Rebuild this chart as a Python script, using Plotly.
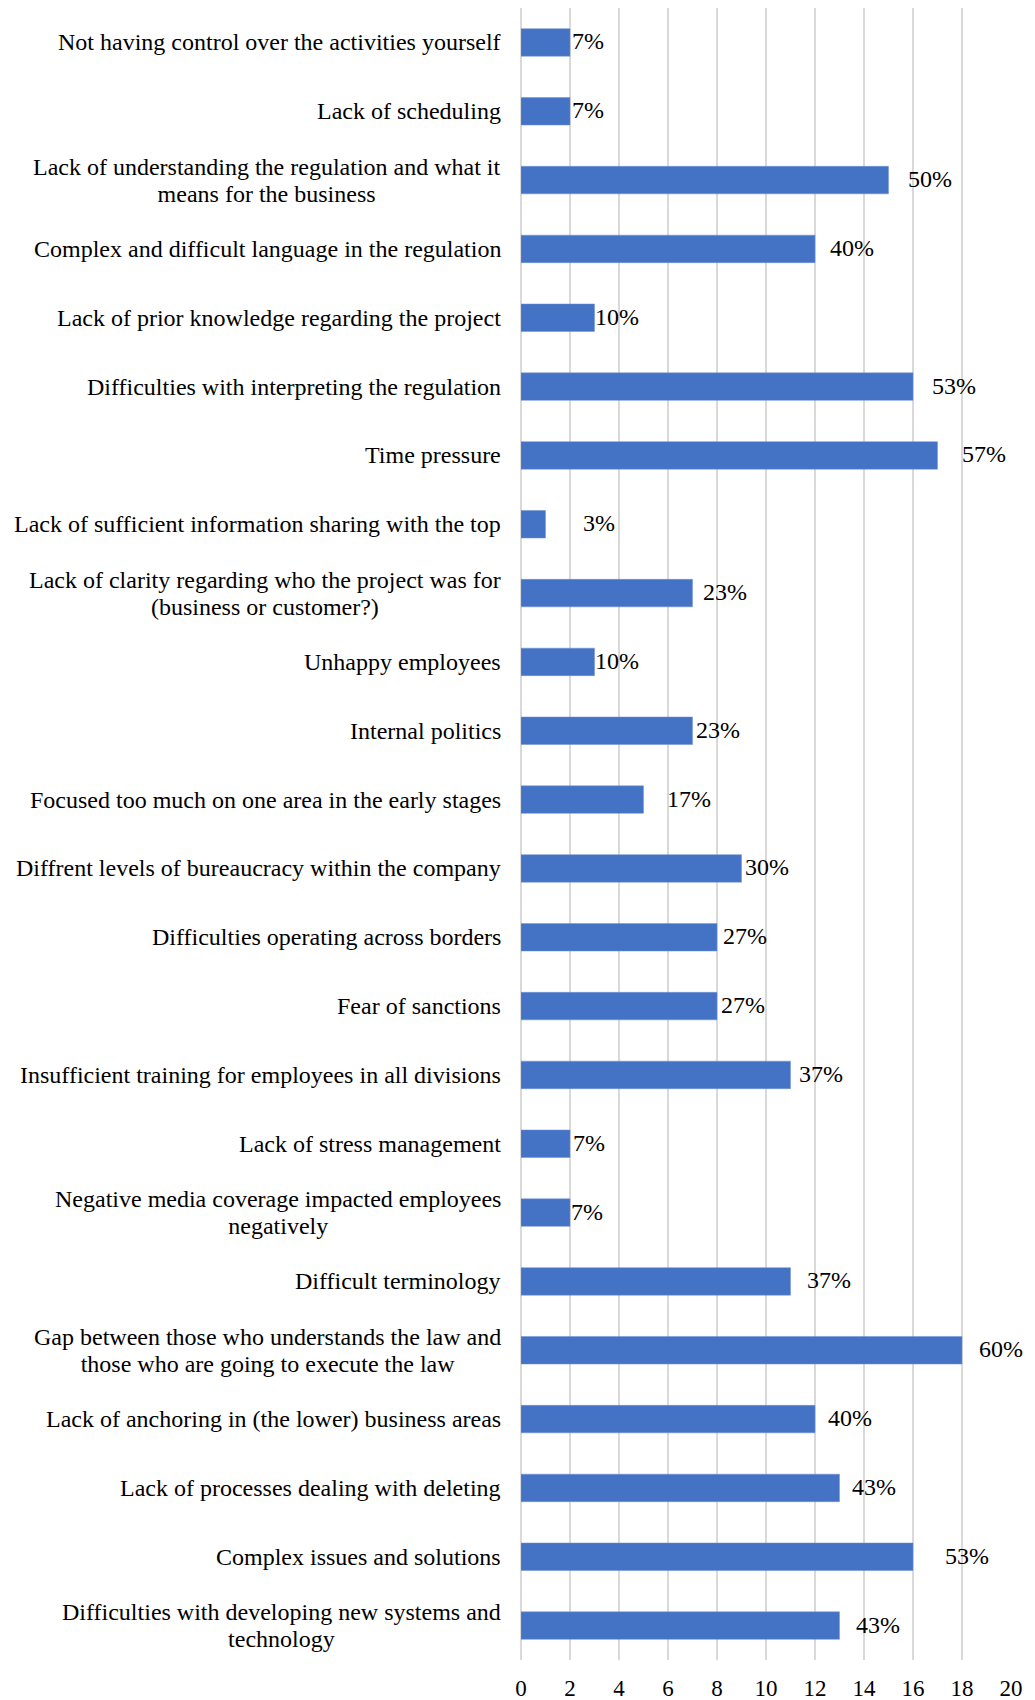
import plotly.graph_objects as go

categories = [
    "Not having control over the activities yourself",
    "Lack of scheduling",
    "Lack of understanding the regulation and what it<br>means for the business",
    "Complex and difficult language in the regulation",
    "Lack of prior knowledge regarding the project",
    "Difficulties with interpreting the regulation",
    "Time pressure",
    "Lack of sufficient information sharing with the top",
    "Lack of clarity regarding who the project was for<br>(business or customer?)",
    "Unhappy employees",
    "Internal politics",
    "Focused too much on one area in the early stages",
    "Diffrent levels of bureaucracy within the company",
    "Difficulties operating across borders",
    "Fear of sanctions",
    "Insufficient training for employees in all divisions",
    "Lack of stress management",
    "Negative media coverage impacted employees<br>negatively",
    "Difficult terminology",
    "Gap between those who understands the law and<br>those who are going to execute the law",
    "Lack of anchoring in (the lower) business areas",
    "Lack of processes dealing with deleting",
    "Complex issues and solutions",
    "Difficulties with developing new systems and<br>technology",
]
counts = [2, 2, 15, 12, 3, 16, 17, 1, 7, 3, 7, 5, 9, 8, 8, 11, 2, 2, 11, 18, 12, 13, 16, 13]
pct_labels = ["7%", "7%", "50%", "40%", "10%", "53%", "57%", "3%", "23%", "10%", "23%", "17%",
              "30%", "27%", "27%", "37%", "7%", "7%", "37%", "60%", "40%", "43%", "53%", "43%"]
x_ticks = [0, 2, 4, 6, 8, 10, 12, 14, 16, 18, 20]

# pixel gap between bar end and its data label (as placed in the original)
label_gap_px = [2, 2, 19, 15, 0, 19, 24, 37, 10, 0, 3, 23, 3, 6, 4, 8, 3, 1, 16, 17, 13, 12, 32, 16]

FONT = "Liberation Serif, Times New Roman, serif"


def tight_lines(label, size=24):
    # each line drawn at full size; the annotation's base size sets the tighter line pitch
    return "<br>".join(f'<span style="font-size:{size}px">{ln}</span>' for ln in label.split("<br>"))


fig = go.Figure()
fig.add_trace(go.Bar(
    x=counts, y=categories, orientation="h",
    marker=dict(color="#4472C4", line=dict(color="#6F93D4", width=0.5)),
    hoverinfo="skip",
))

for cat, c, lab, g in zip(categories, counts, pct_labels, label_gap_px):
    fig.add_annotation(x=c, y=cat, xref="x", yref="y", text=lab, showarrow=False,
                       xanchor="left", yanchor="middle", xshift=g - 2, yshift=1,
                       font=dict(family=FONT, size=24, color="#000000"))
    multi = "<br>" in cat
    fig.add_annotation(x=0, y=cat, xref="paper", yref="y",
                       text=tight_lines(cat) if multi else cat, showarrow=False,
                       xanchor="right", yanchor="middle", xshift=-18, align="center",
                       font=dict(family=FONT, size=20.4 if multi else 24, color="#000000"))

fig.update_layout(
    width=1027, height=1692,
    margin=dict(l=513, r=24, t=0, b=40),
    paper_bgcolor="white", plot_bgcolor="white",
    bargap=0.6, showlegend=False,
    font=dict(family=FONT, color="#000000"),
)
fig.update_xaxes(range=[0, 20], tickvals=x_ticks, ticktext=[str(t) for t in x_ticks],
                 showgrid=True, gridcolor="#D9D9D9", gridwidth=1.5,
                 zeroline=True, zerolinecolor="#D9D9D9", zerolinewidth=1.5,
                 showline=False, ticks="", ticklabelstandoff=12,
                 tickfont=dict(family=FONT, size=23, color="#000000"))
fig.update_yaxes(categoryorder="array", categoryarray=categories,
                 autorange="reversed", showticklabels=False, showgrid=False,
                 showline=False, ticks="")

fig.write_html("out.html")
